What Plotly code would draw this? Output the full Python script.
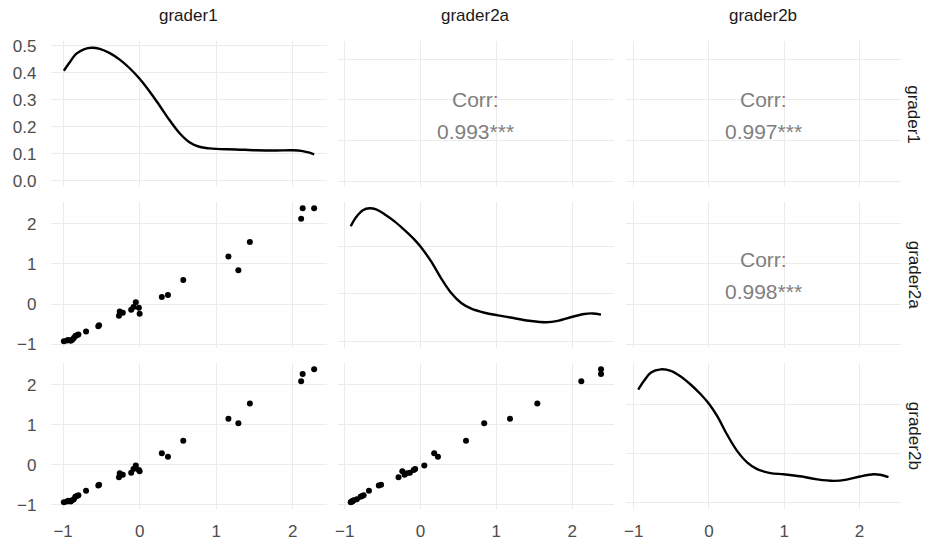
import plotly.graph_objects as go

W, H = 932, 547

variables = ["grader1", "grader2a", "grader2b"]

# Scores of the 29 rated items
grader1 = [-0.99, -0.95, -0.93, -0.90, -0.88, -0.86, -0.84, -0.82, -0.80, -0.70,
           -0.54, -0.53, -0.27, -0.26, -0.22, -0.11, -0.08, -0.05, -0.01, 0.00,
           0.29, 0.37, 0.57, 1.16, 1.29, 1.44, 2.11, 2.13, 2.28]
grader2a = [-0.92, -0.90, -0.89, -0.91, -0.88, -0.84, -0.79, -0.77, -0.75, -0.68,
            -0.55, -0.52, -0.29, -0.18, -0.21, -0.14, -0.07, 0.05, -0.09, -0.24,
            0.18, 0.23, 0.60, 1.18, 0.84, 1.54, 2.12, 2.38, 2.38]
grader2b = [-0.94, -0.92, -0.90, -0.92, -0.89, -0.865, -0.80, -0.78, -0.76, -0.65,
            -0.52, -0.50, -0.31, -0.21, -0.25, -0.20, -0.105, -0.02, -0.13, -0.16,
            0.29, 0.20, 0.60, 1.15, 1.04, 1.53, 2.09, 2.27, 2.385]

# Kernel density estimates for the diagonal
dens1_x = [-0.99, -0.91, -0.83, -0.72, -0.63, -0.52, -0.39, -0.26, -0.13, 0.00,
           0.13, 0.26, 0.39, 0.52, 0.65, 0.78, 0.91, 1.00, 1.26, 1.52, 1.78,
           2.00, 2.13, 2.22, 2.28]
dens1_y = [0.408, 0.440, 0.470, 0.488, 0.493, 0.489, 0.473, 0.449, 0.417, 0.378,
           0.331, 0.279, 0.225, 0.177, 0.143, 0.126, 0.120, 0.118, 0.116, 0.113,
           0.112, 0.113, 0.110, 0.104, 0.098]
dens2_x = [-0.92, -0.85, -0.76, -0.67, -0.585, -0.475, -0.343, -0.21, -0.08, 0.01,
           0.14, 0.27, 0.405, 0.537, 0.67, 0.845, 1.02, 1.24, 1.46, 1.66, 1.81,
           1.99, 2.16, 2.27, 2.38]
dens2_y = [0.484, 0.522, 0.552, 0.560, 0.555, 0.535, 0.505, 0.468, 0.428, 0.395,
           0.336, 0.266, 0.203, 0.161, 0.137, 0.120, 0.109, 0.097, 0.085, 0.080,
           0.086, 0.102, 0.115, 0.117, 0.112]
dens3_x = [-0.94, -0.86, -0.77, -0.64, -0.507, -0.375, -0.24, -0.11, 0.00, 0.11,
           0.24, 0.376, 0.51, 0.64, 0.817, 0.993, 1.21, 1.44, 1.66, 1.83, 2.01,
           2.19, 2.27, 2.385]
dens3_y = [0.462, 0.499, 0.532, 0.545, 0.539, 0.516, 0.482, 0.443, 0.404, 0.353,
           0.278, 0.210, 0.163, 0.136, 0.120, 0.115, 0.107, 0.094, 0.088, 0.093,
           0.106, 0.115, 0.113, 0.103]

# Pearson correlations for the upper triangle: (row, col) -> r
corr_pairs = [(1, 2), (1, 3), (2, 3)]
corr_values = [0.993, 0.997, 0.998]
corr_stars = ["***", "***", "***"]

value_ticks = [-1, 0, 1, 2]
dens1_ticks = [0.0, 0.1, 0.2, 0.3, 0.4, 0.5]
dens_ticks = [0.0, 0.2, 0.4]

data = [grader1, grader2a, grader2b]
dens = [(dens1_x, dens1_y), (dens2_x, dens2_y), (dens3_x, dens3_y)]

# panel geometry in pixels
col_left = [48.5, 336.3, 624.7]
panel_w = 276.2
row_top = [37.8, 201.3, 365.4]
panel_h = 149.0

GRID = "#EBEBEB"
TICK_COL = "#4D4D4D"
STRIP_COL = "#1A1A1A"
CORR_COL = "#7F7F7F"
FONT = "Liberation Sans, Arial, sans-serif"


def expand(lo, hi, f=0.05):
    d = (hi - lo) * f
    return [lo - d, hi + d]


fig = go.Figure()
layout = {}

for r in range(3):
    for c in range(3):
        k = r * 3 + 1 + c
        xa = "xaxis" if k == 1 else f"xaxis{k}"
        ya = "yaxis" if k == 1 else f"yaxis{k}"
        xref = "x" if k == 1 else f"x{k}"
        yref = "y" if k == 1 else f"y{k}"

        xr = expand(min(data[c]), max(data[c]))
        if r == c:
            dy = max(dens[r][1])
            yr = expand(0.0, dy)
            yt = dens1_ticks if r == 0 else dens_ticks
        else:
            yr = expand(min(data[r]), max(data[r]))
            yt = value_ticks

        x0 = col_left[c] / W
        x1 = (col_left[c] + panel_w) / W
        y1 = 1 - row_top[r] / H
        y0 = 1 - (row_top[r] + panel_h) / H

        layout[xa] = dict(
            domain=[x0, x1], range=xr, anchor=yref,
            tickvals=value_ticks, showticklabels=(r == 2),
            showgrid=True, gridcolor=GRID, gridwidth=1,
            zeroline=False, showline=False, ticks="",
            tickfont=dict(family=FONT, size=17, color=TICK_COL),
            ticklabelstandoff=10,
        )
        layout[ya] = dict(
            domain=[y0, y1], range=yr, anchor=xref,
            tickvals=yt, showticklabels=(c == 0),
            tickformat=".1f" if (r == 0 and c == 0) else "d",
            showgrid=True, gridcolor=GRID, gridwidth=1,
            zeroline=False, showline=False, ticks="",
            tickfont=dict(family=FONT, size=17, color=TICK_COL),
            ticklabelstandoff=14,
        )

        if r == c:
            fig.add_trace(go.Scatter(
                x=dens[r][0], y=dens[r][1], mode="lines",
                line=dict(color="black", width=2.4, shape="spline", smoothing=1.0),
                xaxis=xref, yaxis=yref, showlegend=False, hoverinfo="skip"))
        elif r > c:
            fig.add_trace(go.Scatter(
                x=data[c], y=data[r], mode="markers",
                marker=dict(color="black", size=6, line=dict(width=0)),
                xaxis=xref, yaxis=yref, showlegend=False))
        else:
            # empty trace so the correlation panel keeps its grid
            fig.add_trace(go.Scatter(
                x=[], y=[], mode="markers",
                xaxis=xref, yaxis=yref, showlegend=False, hoverinfo="skip"))

annotations = []
for (r, c), v, s in zip(corr_pairs, corr_values, corr_stars):
    k = (r - 1) * 3 + c
    xd = f"x{k} domain"
    yd = f"y{k} domain"
    annotations.append(dict(text="Corr:", xref=xd, yref=yd, x=0.5, y=0.5,
                            yshift=15, showarrow=False,
                            font=dict(family=FONT, size=21, color=CORR_COL)))
    annotations.append(dict(text=f"{v:.3f}{s}", xref=xd, yref=yd, x=0.5, y=0.5,
                            yshift=-17, showarrow=False,
                            font=dict(family=FONT, size=21, color=CORR_COL)))

# facet strips: top and right
for c, name in enumerate(variables):
    annotations.append(dict(text=name, xref="paper", yref="paper",
                            x=(col_left[c] + panel_w / 2) / W, y=1 - 12 / H,
                            showarrow=False, xanchor="center", yanchor="middle",
                            font=dict(family=FONT, size=17, color=STRIP_COL)))
for r, name in enumerate(variables):
    annotations.append(dict(text=name, xref="paper", yref="paper",
                            x=914 / W, y=1 - (row_top[r] + panel_h / 2) / H,
                            textangle=90, showarrow=False,
                            xanchor="center", yanchor="middle",
                            font=dict(family=FONT, size=17, color=STRIP_COL)))

fig.update_layout(
    width=W, height=H, autosize=False,
    margin=dict(l=0, r=0, t=0, b=0),
    paper_bgcolor="white", plot_bgcolor="white",
    annotations=annotations,
    **layout,
)

fig.write_html("out.html")
